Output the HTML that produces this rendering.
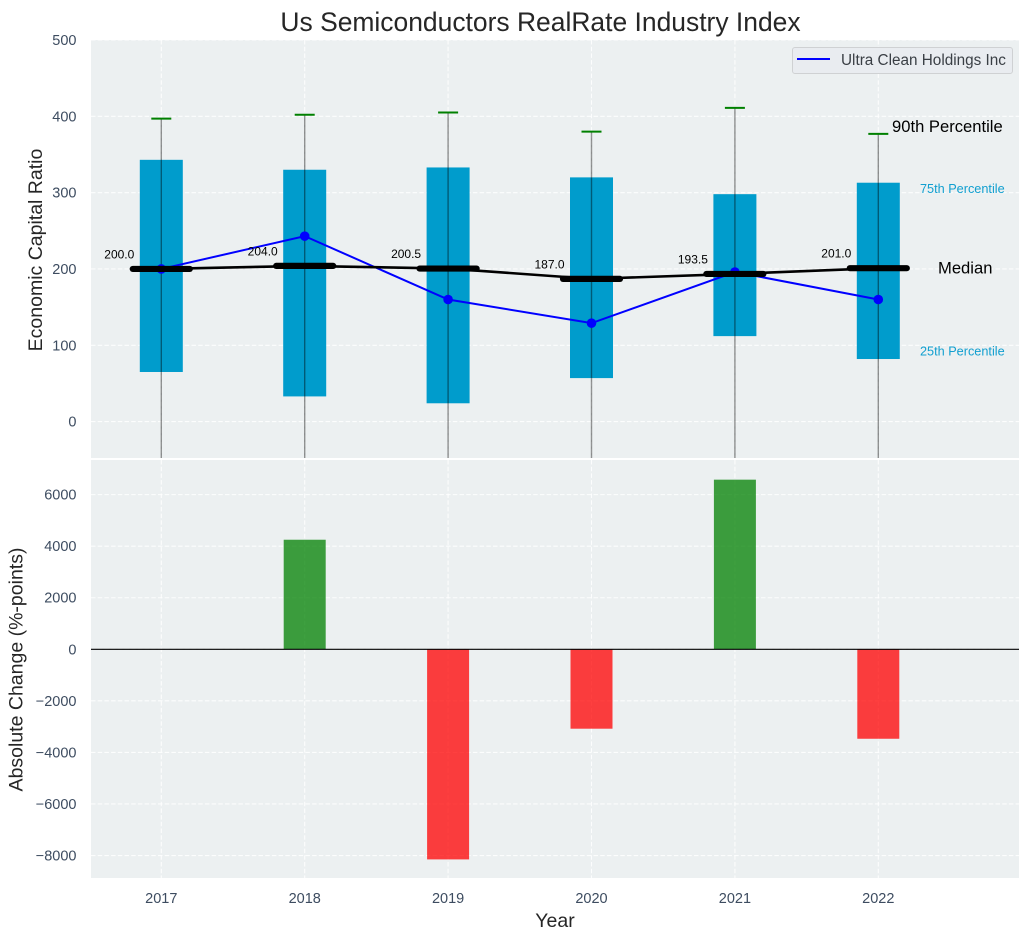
<!DOCTYPE html>
<html lang="en">
<head>
<meta charset="utf-8">
<title>Us Semiconductors RealRate Industry Index</title>
<style>
html,body{margin:0;padding:0;background:#fff;}
body{width:1029px;height:940px;overflow:hidden;}
svg{display:block;font-family:"Liberation Sans",sans-serif;}
</style>
</head>
<body>
<svg id="chart" width="1029" height="940" viewBox="0 0 1029 940" xmlns="http://www.w3.org/2000/svg">
<defs>
<clipPath id="clip-top"><rect x="91" y="40" width="928" height="418"></rect></clipPath>
<clipPath id="clip-bottom"><rect x="91" y="460" width="928" height="418"></rect></clipPath>
</defs>
<text x="540.5" y="31" text-anchor="middle" font-size="26.45" fill="#262626">Us Semiconductors RealRate Industry Index</text>
<rect x="91" y="40" width="928" height="418" fill="#ecf0f1"></rect>
<rect x="91" y="460" width="928" height="418" fill="#ecf0f1"></rect>
<g id="top-grid"></g>
<g id="bottom-grid"></g>
<g id="top-marks" clip-path="url(#clip-top)"></g>
<g id="bottom-marks" clip-path="url(#clip-bottom)"></g>
<g id="labels"></g>
<text transform="translate(42 250) rotate(-90)" text-anchor="middle" font-size="19.5" fill="#262626">Economic Capital Ratio</text>
<text transform="translate(22.5 669.5) rotate(-90)" text-anchor="middle" font-size="19.5" fill="#262626">Absolute Change (%-points)</text>
<text x="555" y="927" text-anchor="middle" font-size="19.5" fill="#262626">Year</text>
<g>
<rect x="792.5" y="47.5" width="220" height="26" rx="2.5" fill="#e9ecf0" stroke="#cfd1d3" stroke-width="1"></rect>
<line x1="797" y1="59" x2="830" y2="59" stroke="#0000ff" stroke-width="2"></line>
<text x="841" y="65" font-size="15.3" fill="#3a3f45">Ultra Clean Holdings Inc</text>
</g>
<script>
const years = [2017, 2018, 2019, 2020, 2021, 2022];
const p90 = [397, 402, 405, 380, 411, 377];
const p75 = [343, 330, 333, 320, 298, 313];
const medians = [200.0, 204.0, 200.5, 187.0, 193.5, 201.0];
const p25 = [65, 33, 24, 57, 112, 82];
const lowerWhisker = [-100, -100, -100, -100, -100, -100];
const companyValues = [200, 243, 160, 129, 196, 160];
const absoluteChange = [0, 4250, -8150, -3080, 6580, -3470];
const topTicks = [0, 100, 200, 300, 400, 500];
const bottomTicks = [-8000, -6000, -4000, -2000, 0, 2000, 4000, 6000];

const NS = 'http://www.w3.org/2000/svg';
function xPos(year) { return 161.3 + (year - 2017) * 143.4; }
function yTop(value) { return 421.6 - value * 0.7632; }
function yBottom(value) { return 649.3 - value * 0.02578; }
function make(parent, tag, attrs, content) {
  const el = document.createElementNS(NS, tag);
  for (const key in attrs) el.setAttribute(key, attrs[key]);
  if (content !== undefined) el.textContent = content;
  parent.appendChild(el);
  return el;
}
function fmtTick(value) { return value < 0 ? '\u2212' + Math.abs(value) : String(value); }

const topGrid = document.getElementById('top-grid');
const bottomGrid = document.getElementById('bottom-grid');
const topMarks = document.getElementById('top-marks');
const bottomMarks = document.getElementById('bottom-marks');
const labels = document.getElementById('labels');
const gridStyle = { stroke: '#ffffff', 'stroke-width': 1.1, 'stroke-dasharray': '4.5 2.2', 'stroke-opacity': 0.85 };

topTicks.forEach(function (t) {
  const y = yTop(t);
  const line = make(topGrid, 'line', Object.assign({ x1: 91, x2: 1019, y1: y, y2: y }, gridStyle));
  
  
  const tick = make(labels, 'text', { x: 76.5, y: y + 5, 'text-anchor': 'end', 'font-size': 14.5, fill: '#3d4c60' }, fmtTick(t));
  
  
});
bottomTicks.forEach(function (t) {
  const y = yBottom(t);
  const line = make(bottomGrid, 'line', Object.assign({ x1: 91, x2: 1019, y1: y, y2: y }, gridStyle));
  
  
  const tick = make(labels, 'text', { x: 76.5, y: y + 5, 'text-anchor': 'end', 'font-size': 14.5, fill: '#3d4c60' }, fmtTick(t));
  
  
});

years.forEach(function (year, i) {
  const x = xPos(year);
  const topLine = make(topGrid, 'line', Object.assign({ x1: x, x2: x, y1: 40, y2: 458 }, gridStyle));
  
  
  const bottomLine = make(bottomGrid, 'line', Object.assign({ x1: x, x2: x, y1: 460, y2: 878 }, gridStyle));
  
  
  const tick = make(labels, 'text', { x: x, y: 903, 'text-anchor': 'middle', 'font-size': 14.5, fill: '#3d4c60' }, String(year));
  
  

  const box = make(topMarks, 'rect', { x: x - 21.5, y: yTop(p75[i]), width: 43, height: yTop(p25[i]) - yTop(p75[i]), fill: '#009ccc' });
  
  
});

years.forEach(function (year, i) {
  const x = xPos(year);
  const whisker = make(topMarks, 'line', { x1: x, x2: x, y1: yTop(p90[i]), y2: yTop(lowerWhisker[i]), stroke: '#000000', 'stroke-width': 1.4, 'stroke-opacity': 0.42 });
  
  
  const cap = make(topMarks, 'line', { x1: x - 10, x2: x + 10, y1: yTop(p90[i]), y2: yTop(p90[i]), stroke: '#008000', 'stroke-width': 2 });
  
  
});

const companyPath = years.map(function (year, i) { return (i ? 'L' : 'M') + xPos(year) + ' ' + yTop(companyValues[i]); }).join(' ');
const companyLine = make(topMarks, 'path', { d: companyPath, fill: 'none', stroke: '#0000ff', 'stroke-width': 2 });


years.forEach(function (year, i) {
  const dot = make(topMarks, 'circle', { cx: xPos(year), cy: yTop(companyValues[i]), r: 4.8, fill: '#0000ff' });
  
  
});

const medianPath = years.map(function (year, i) { return (i ? 'L' : 'M') + xPos(year) + ' ' + yTop(medians[i]); }).join(' ');
const medianLine = make(topMarks, 'path', { d: medianPath, fill: 'none', stroke: '#000000', 'stroke-width': 2.6 });


years.forEach(function (year, i) {
  const x = xPos(year);
  const y = yTop(medians[i]);
  const bar = make(topMarks, 'line', { x1: x - 28.5, x2: x + 28.5, y1: y, y2: y, stroke: '#000000', 'stroke-width': 6.2, 'stroke-linecap': 'round' });
  
  
  const label = make(labels, 'text', { x: x - 42, y: y - 10.5, 'text-anchor': 'middle', 'font-size': 12, fill: '#000000' }, medians[i].toFixed(1));
  
  
});

years.forEach(function (year, i) {
  const x = xPos(year);
  const value = absoluteChange[i];
  const yA = yBottom(Math.max(value, 0));
  const yB = yBottom(Math.min(value, 0));
  const bar = make(bottomMarks, 'rect', { x: x - 21, y: yA, width: 42, height: yB - yA, fill: value >= 0 ? '#008000' : '#ff0000', 'fill-opacity': 0.75 });
  
  
});
const zeroLine = make(bottomMarks, 'line', { x1: 91, x2: 1019, y1: yBottom(0), y2: yBottom(0), stroke: '#000000', 'stroke-width': 1.2 });



const last = years.length - 1;
const p90Label = make(labels, 'text', { x: 892, y: yTop(p90[last]) - 2, 'font-size': 16.6, fill: '#000000' }, '90th Percentile');


const p75Label = make(labels, 'text', { x: 920, y: yTop(p75[last]) + 10.5, 'font-size': 12.7, fill: '#119fd0' }, '75th Percentile');


const medianLabel = make(labels, 'text', { x: 938, y: yTop(medians[last]) + 5.5, 'font-size': 16.6, fill: '#000000' }, 'Median');


const p25Label = make(labels, 'text', { x: 920, y: yTop(p25[last]) - 3.5, 'font-size': 12.7, fill: '#119fd0' }, '25th Percentile');


</script>
</svg>
</body>
</html>
